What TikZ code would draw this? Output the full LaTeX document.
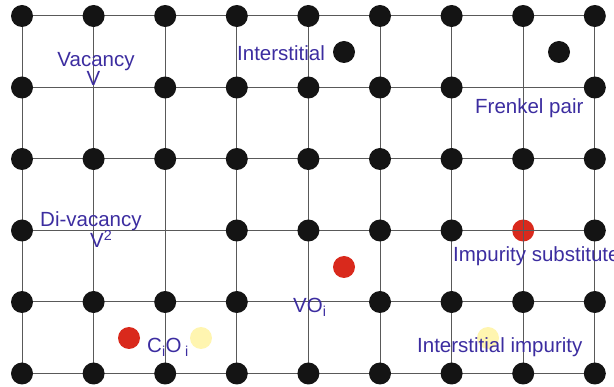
\documentclass[tikz,border=0pt]{standalone}
\usepackage{fontspec}
\setmainfont{Liberation Sans}
\usetikzlibrary{positioning}

\definecolor{deftext}{HTML}{3C2DA0}
\definecolor{impred}{HTML}{D9291C}
\definecolor{impyellow}{HTML}{FFF5B0}
\definecolor{atomblack}{HTML}{141414}

\begin{document}
\begin{tikzpicture}[
    x=1pt, y=-1pt,
    atom/.style={circle, fill=atomblack, minimum size=22pt, inner sep=0pt},
    redatom/.style={atom, fill=impred},
    yellowatom/.style={atom, fill=impyellow},
    bond/.style={draw=black!65, line width=1pt},
    deflabel/.style={text=deftext, font=\fontsize{20.5}{23}\selectfont, inner sep=0pt}
]
\useasboundingbox (0,0) rectangle (614,387);

% Lattice sites
\foreach \i in {0,...,8}
    \foreach \j in {0,...,5}
        \coordinate (s\i\j) at ({22+71.6*\i}, {16+71.5*\j});

% Substitutional impurity (under the lattice lines)
\node[redatom] (subst) at (s73) {};

% Lattice lines
\foreach \j in {0,...,5}
    \draw[bond] (s0\j) -- (s8\j);
\foreach \i in {0,...,8}
    \draw[bond] (s\i0) -- (s\i5);

% Lattice atoms (vacant sites left out)
\foreach \j/\cols in {0/{0,...,8}, 1/{0,2,3,4,5,6,8}, 2/{0,...,8},
                      3/{0,3,4,5,6,8}, 4/{0,1,2,3,5,6,7,8}, 5/{0,...,8}}
    \foreach \i in \cols
        \node[atom] (a\i\j) at (s\i\j) {};

% Interstitials and impurities
\node[atom] (inter) at (344,52) {};
\node[atom] (frenkel) at (559,52) {};
\node[redatom] (oxy) at (344,267) {};
\node[redatom] (carb) at (129,338) {};
\node[yellowatom] (oxyi) at (201,338) {};
\node[yellowatom] (impi) at (488,338) {};

% Labels
\node[deflabel, anchor=base] (vac) at (96,66.5) {Vacancy};
\node[deflabel, anchor=base] (vacsym) at (93.5,86) {V};
\node[deflabel, anchor=base west] (interlbl) at (237,60.5) {Interstitial};
\node[deflabel, anchor=base west] (frenkellbl) at (475,114) {Frenkel pair};
\node[deflabel, anchor=base west] (divac) at (40,227) {Di-vacancy};
\node[deflabel, anchor=base west] (divacsym) at (90,248) {V\textsuperscript{2}};
\node[deflabel, anchor=base west] (cioi) at (147,353) {C\textsubscript{i}O\,\textsubscript{i}};
\node[deflabel, anchor=base west] (voi) at (293,313) {VO\textsubscript{i}};
\node[deflabel, anchor=base west] (substlbl) at (453,262) {Impurity substitute};
\node[deflabel, anchor=base west] (impilbl) at (417,353) {Interstitial impurity};

\end{tikzpicture}
\end{document}
